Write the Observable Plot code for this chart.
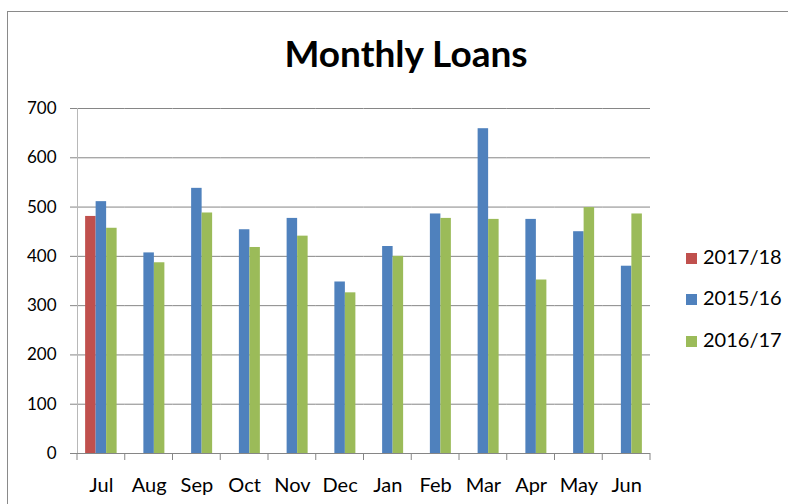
<!DOCTYPE html>
<html><head><meta charset="utf-8">
<script src="https://cdn.jsdelivr.net/npm/d3@7"></script>
<script src="https://cdn.jsdelivr.net/npm/@observablehq/plot@0.6"></script>
<style>
body{margin:0;background:#fff;font-family:Lato,sans-serif;color:#000;}
#wrap{position:relative;width:788px;height:504px;overflow:hidden;background:#fff;}
#border{position:absolute;left:7px;top:11px;width:830px;height:560px;border:1.5px solid #8a8a8a;}
#title{position:absolute;left:0;top:34px;width:812px;text-align:center;font-weight:bold;font-size:37px;line-height:37px;}
#chart{position:absolute;left:0;top:80px;}
#legend{position:absolute;left:686px;top:0;}
.row{position:absolute;left:0;height:24px;line-height:24px;font-size:20px;white-space:nowrap;}
.sw{display:inline-block;width:11px;height:11px;margin-right:6px;vertical-align:0px;}
</style></head>
<body>
<div id="wrap">
  <div id="border"></div>
  <div id="title">Monthly Loans</div>
  <div id="chart"></div>
  <div id="legend"></div>
</div>
<script>
const months = ["Jul","Aug","Sep","Oct","Nov","Dec","Jan","Feb","Mar","Apr","May","Jun"];
const seriesNames = ["2017/18","2015/16","2016/17"];
const seriesColors = ["#C0504D","#4F81BD","#9BBB59"];
const loans1718 = [481,null,null,null,null,null,null,null,null,null,null,null];
const loans1516 = [511,407,538,454,477,348,420,486,659,475,450,380];
const loans1617 = [457,387,488,418,441,326,400,477,475,352,499,486];
const yTicks = [0,100,200,300,400,500,600,700];

const seriesValues = [loans1718, loans1516, loans1617];
const rows = [];
seriesNames.forEach((s, i) => {
  months.forEach((m, j) => {
    const v = seriesValues[i][j];
    if (v != null) rows.push({month: m, series: s, value: v});
  });
});

const chart = Plot.plot({
  width: 788, height: 424,
  marginLeft: 77, marginRight: 138, marginTop: 28, marginBottom: 51,
  style: {fontFamily: "Lato, sans-serif", fontSize: "17px", color: "#000", background: "transparent"},
  fx: {domain: months, padding: 0, round: false, label: null},
  x: {domain: seriesNames, paddingInner: 0, paddingOuter: 0.774, round: false, axis: null},
  y: {domain: [0, 700], label: null},
  color: {domain: seriesNames, range: seriesColors},
  marks: [
    Plot.gridY(yTicks, {stroke: "#868686", strokeOpacity: 1}),
    Plot.barY(rows, {fx: "month", x: "series", y: "value", fill: "series"}),
    Plot.frame({anchor: "left", facetAnchor: "left", stroke: "#b8b8b8"}),
    Plot.axisY(yTicks, {tickSize: 7, tickPadding: 14, stroke: "#868686", fontSize: 17, label: null}),
    Plot.axisFx({anchor: "bottom", tickSize: 0, tickPadding: 24, fontSize: 20, label: null}),
    Plot.ruleY([0], {stroke: "#868686"})
  ]
});
document.getElementById("chart").appendChild(chart);

// category boundary ticks from the fx band scale
const fx = chart.scale("fx");
const y = chart.scale("y");
const y0 = y.apply(0);
const bounds = months.map(m => fx.apply(m)).concat([fx.apply(months[months.length-1]) + fx.bandwidth]);
d3.select(chart).append("g")
  .attr("stroke", "#868686")
  .selectAll("line").data(bounds).join("line")
  .attr("x1", d => d).attr("x2", d => d)
  .attr("y1", y0).attr("y2", y0 + 7);

// legend
const legendTops = [256, 297, 339];
const legend = document.getElementById("legend");
seriesNames.forEach((s, i) => {
  const r = document.createElement("div");
  r.className = "row";
  r.style.top = (legendTops[i] - 12) + "px";
  r.innerHTML = `<span class="sw" style="background:${seriesColors[i]}"></span>${s}`;
  legend.appendChild(r);
});
</script>
</body></html>
